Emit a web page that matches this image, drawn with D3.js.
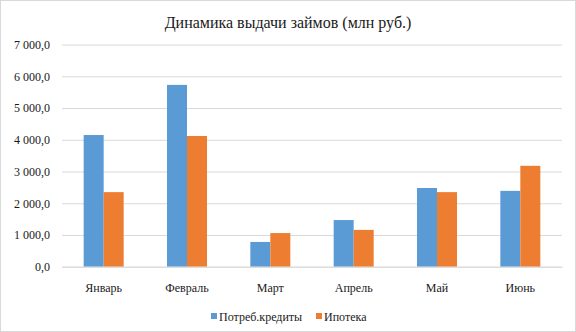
<!DOCTYPE html>
<html><head><meta charset="utf-8">
<script src="https://cdn.jsdelivr.net/npm/d3@7"></script>
<style>body{margin:0;background:#fff}svg{display:block}svg text{font-family:"Liberation Serif","Times New Roman",serif !important}</style>
</head><body>
<script>
const categories = ["Январь","Февраль","Март","Апрель","Май","Июнь"];
const seriesNames = ["Потреб.кредиты","Ипотека"];
const consumer = [4150,5730,780,1470,2480,2390];
const mortgage = [2350,4120,1060,1160,2350,3180];
const yTicks = [0,1000,2000,3000,4000,5000,6000,7000];
const colors = ["#5b9bd5","#ed7d31"];
const title = "Динамика выдачи займов (млн руб.)";

(function(){
const W=576,H=332;
const svg=d3.select("body").append("svg").attr("width",W).attr("height",H);
svg.append("rect").attr("x",0.5).attr("y",0.5).attr("width",W-1).attr("height",H-1)
  .attr("fill","#fff").attr("stroke","#d9d9d9");
const pL=62,pR=562,pT=44.6,pB=266.7;
const x=d3.scaleBand().domain(categories).range([pL,pR]).paddingInner(0.52).paddingOuter(0.26);
const xs=d3.scaleBand().domain([0,1]).range([0,x.bandwidth()]);
const y=d3.scaleLinear().domain([0,7000]).range([pB,pT]);
const fmt=v=>d3.format(",.1f")(v).replace(/,/g," ").replace(".",",");

svg.append("text").attr("x",288).attr("y",28).attr("text-anchor","middle")
  .attr("font-size",16).attr("fill","#1a1a1a").text(title);

const yAxis=svg.append("g").attr("transform",`translate(${pL},0)`)
  .call(d3.axisLeft(y).tickValues(yTicks).tickSize(-(pR-pL)).tickFormat(fmt).tickPadding(12));
yAxis.select(".domain").remove();
yAxis.selectAll(".tick line").attr("stroke","#d9d9d9");
yAxis.selectAll(".tick text").attr("font-size",12).attr("fill","#1a1a1a");

const data=[consumer,mortgage];
categories.forEach((c,i)=>{
  data.forEach((s,j)=>{
    svg.append("rect").attr("x",x(c)+xs(j)).attr("width",xs.bandwidth())
      .attr("y",y(s[i])).attr("height",y(0)-y(s[i])).attr("fill",colors[j]);
  });
});

const xAxis=svg.append("g").attr("transform",`translate(0,${pB})`)
  .call(d3.axisBottom(x).tickSize(0).tickPadding(17));
xAxis.select(".domain").attr("stroke","#d9d9d9");
xAxis.selectAll(".tick text").attr("font-size",12).attr("fill","#1a1a1a");

const lg=[{x:211,t:219},{x:316,t:324}];
seriesNames.forEach((n,j)=>{
  svg.append("rect").attr("x",lg[j].x).attr("y",313).attr("width",6).attr("height",6).attr("fill",colors[j]);
  svg.append("text").attr("x",lg[j].t).attr("y",321).attr("font-size",12)
    .attr("fill","#1a1a1a").text(n);
});
})();
</script>
</body></html>
